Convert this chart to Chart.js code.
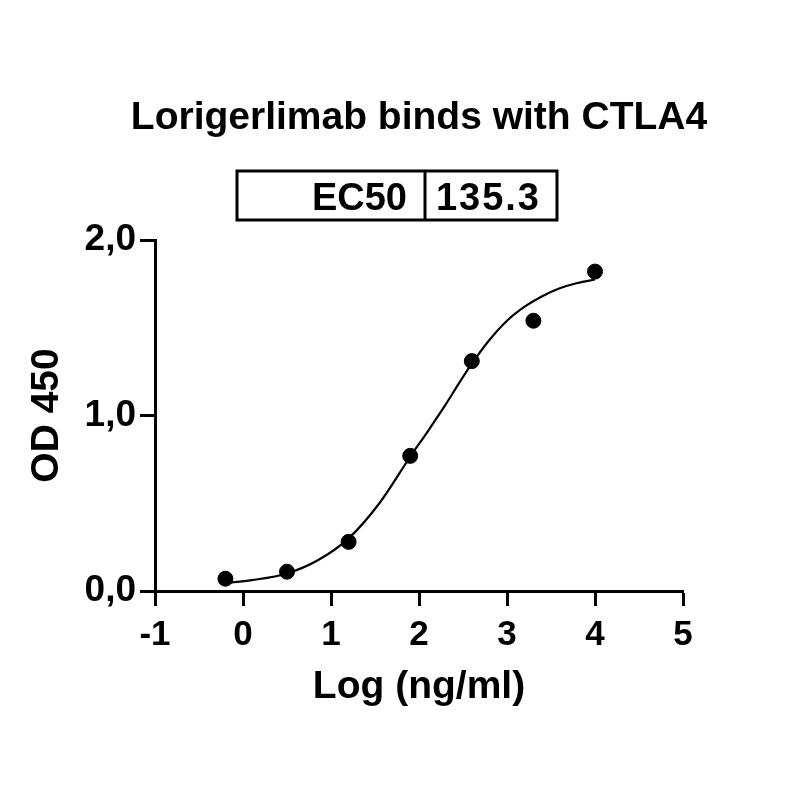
<!DOCTYPE html>
<html>
<head>
<meta charset="utf-8">
<script src="https://cdn.jsdelivr.net/npm/chart.js@4.4.1/dist/chart.umd.min.js"></script>
<style>
  html, body { margin: 0; padding: 0; background: #fff; }
  #wrap { width: 800px; height: 800px; }
</style>
</head>
<body>
<div id="wrap"><canvas id="chart" width="800" height="800"></canvas></div>
<script>
// measured points (log concentration vs OD)
const doseLog = [-0.2, 0.5, 1.2, 1.9, 2.6, 3.3, 4.0];
const od450 = [0.07, 0.11, 0.28, 0.77, 1.31, 1.54, 1.82];

// fitted curve
const fitLog = [-0.2, 0.1, 0.5, 0.85, 1.2, 1.55, 1.9, 2.1, 2.3, 2.45, 2.6, 2.8, 3.0, 3.2, 3.4, 3.6, 3.8, 4.0];
const fitOD = [0.045, 0.062, 0.10, 0.175, 0.30, 0.50, 0.765, 0.91, 1.06, 1.18, 1.295, 1.43, 1.54, 1.62, 1.68, 1.725, 1.755, 1.775];

const xTicks = [-1, 0, 1, 2, 3, 4, 5];
const yTicks = [0, 1, 2];

const chartTitle = 'Lorigerlimab binds with CTLA4';
const ecLabel = 'EC50';
const ecValue = '135.3';

const FONT = '"Liberation Sans", Arial, Helvetica, sans-serif';

// title + EC50 box drawn above the plot
const headerPlugin = {
    id: 'header',
    afterDraw(chart) {
        const ctx = chart.ctx;
        const area = chart.chartArea;
        ctx.save();
        ctx.fillStyle = '#000';
        ctx.textBaseline = 'alphabetic';
        ctx.font = 'bold 39px ' + FONT;
        ctx.textAlign = 'center';
        ctx.fillText(chartTitle, (area.left + area.right) / 2, 129);

        ctx.strokeStyle = '#000';
        ctx.lineWidth = 3;
        ctx.strokeRect(237, 171, 320, 49);
        ctx.beginPath();
        ctx.moveTo(425, 171);
        ctx.lineTo(425, 220);
        ctx.stroke();

        ctx.font = 'bold 38px ' + FONT;
        ctx.textAlign = 'right';
        ctx.fillText(ecLabel, 407, 210);
        ctx.letterSpacing = '2px';
        ctx.fillText(ecValue, 541, 210);
        ctx.restore();
    }
};

const xTickFont = { family: FONT, size: 35, weight: 'bold' };
const yTickFont = { family: FONT, size: 37, weight: 'bold' };
const titleFont = { family: FONT, size: 39, weight: 'bold' };

new Chart(document.getElementById('chart'), {
    type: 'scatter',
    data: {
        datasets: [
            {
                label: 'fit',
                type: 'line',
                data: fitLog.map((x, i) => ({ x: x, y: fitOD[i] })),
                borderColor: '#000',
                borderWidth: 2.2,
                pointRadius: 0,
                fill: false,
                cubicInterpolationMode: 'monotone'
            },
            {
                label: 'OD',
                data: doseLog.map((x, i) => ({ x: x, y: od450[i] })),
                backgroundColor: '#000',
                borderColor: '#000',
                pointRadius: 7.5,
                pointHoverRadius: 7.5
            }
        ]
    },
    options: {
        responsive: false,
        animation: false,
        events: [],
        layout: { padding: { left: 0, right: 117, top: 240, bottom: 0 } },
        plugins: {
            legend: { display: false },
            tooltip: { enabled: false }
        },
        scales: {
            x: {
                type: 'linear',
                min: -1,
                max: 5,
                afterBuildTicks: s => { s.ticks = xTicks.map(v => ({ value: v })); },
                afterFit: s => { s.height = 209; },
                border: { display: true, color: '#000', width: 3 },
                grid: { drawOnChartArea: false, drawTicks: true, tickLength: 15, tickWidth: 3, tickColor: '#000', color: '#000' },
                ticks: { color: '#000', font: xTickFont, padding: 8, maxRotation: 0 },
                title: { display: true, text: 'Log (ng/ml)', color: '#000', font: titleFont, padding: { top: 0, bottom: 89 } }
            },
            y: {
                min: 0,
                max: 2,
                afterBuildTicks: s => { s.ticks = yTicks.map(v => ({ value: v })); },
                afterFit: s => { s.width = 155; },
                border: { display: true, color: '#000', width: 3 },
                grid: { drawOnChartArea: false, drawTicks: true, tickLength: 15, tickWidth: 3, tickColor: '#000', color: '#000' },
                ticks: {
                    color: '#000',
                    font: yTickFont,
                    padding: 4,
                    callback: v => v.toFixed(1).replace('.', ',')
                },
                title: { display: true, text: 'OD 450', color: '#000', font: titleFont, padding: { top: 24, bottom: 0 } }
            }
        }
    },
    plugins: [headerPlugin]
});
</script>
</body>
</html>
